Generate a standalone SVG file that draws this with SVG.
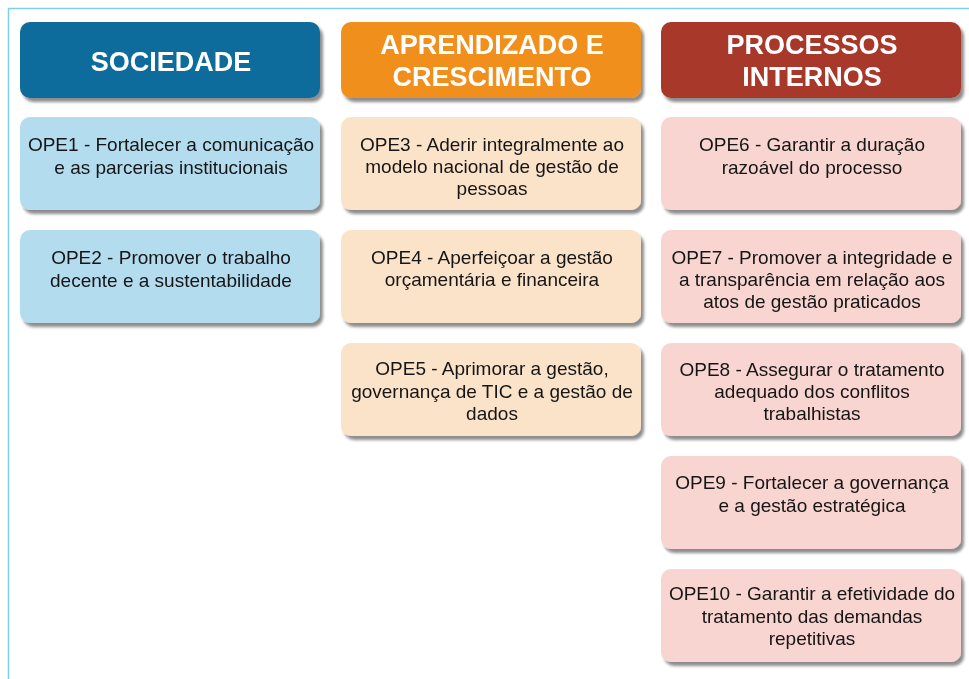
<svg xmlns="http://www.w3.org/2000/svg" width="969" height="679" viewBox="0 0 969 679">
<defs>
<filter id="sh" x="-5%" y="-10%" width="115%" height="130%">
<feGaussianBlur in="SourceAlpha" stdDeviation="1.5"/>
<feOffset dx="3" dy="4" result="o"/>
<feComponentTransfer><feFuncA type="linear" slope="0.45"/></feComponentTransfer>
<feMerge><feMergeNode/><feMergeNode in="SourceGraphic"/></feMerge>
</filter>
<style>
.hd{font-family:"Liberation Sans",Arial,sans-serif;font-weight:bold;font-size:27px;fill:#ffffff;text-anchor:middle}
.tx{font-family:"Liberation Sans",Arial,sans-serif;font-size:19px;fill:#151515;text-anchor:middle}
.c1{fill:#b3dcef}
.c2{fill:#fbe3c9}
.c3{fill:#f8d5d1}
</style>
</defs>
<rect width="969" height="679" fill="#ffffff"/>
<path d="M8.5 679 V8.5 H969" fill="none" stroke="#7fcdf5" stroke-width="1.5"/>
<g id="h1" filter="url(#sh)"><rect x="20" y="22" width="300" height="76" rx="10" fill="#106c9c"/><text class="hd" x="171" y="71">SOCIEDADE</text></g>
<g id="h2" filter="url(#sh)"><rect x="341" y="22" width="300" height="76" rx="10" fill="#f08f1d"/><text class="hd" x="492" y="54">APRENDIZADO E</text><text class="hd" x="492" y="86">CRESCIMENTO</text></g>
<g id="h3" filter="url(#sh)"><rect x="661" y="22" width="300" height="76" rx="10" fill="#a8392c"/><text class="hd" x="812" y="54">PROCESSOS</text><text class="hd" x="812" y="86">INTERNOS</text></g>

<g id="ope1" filter="url(#sh)"><rect class="c1" x="20" y="117" width="300" height="93" rx="10"/><text class="tx" x="171" y="151">OPE1 - Fortalecer a comunicação</text><text class="tx" x="171" y="174">e as parcerias institucionais</text></g>
<g id="ope2" filter="url(#sh)"><rect class="c1" x="20" y="230" width="300" height="93" rx="10"/><text class="tx" x="171" y="264">OPE2 - Promover o trabalho</text><text class="tx" x="171" y="287">decente e a sustentabilidade</text></g>

<g id="ope3" filter="url(#sh)"><rect class="c2" x="341" y="117" width="300" height="93" rx="10"/><text class="tx" x="492" y="151">OPE3 - Aderir integralmente ao</text><text class="tx" x="492" y="173">modelo nacional de gestão de</text><text class="tx" x="492" y="195">pessoas</text></g>
<g id="ope4" filter="url(#sh)"><rect class="c2" x="341" y="230" width="300" height="93" rx="10"/><text class="tx" x="492" y="264">OPE4 - Aperfeiçoar a gestão</text><text class="tx" x="492" y="286">orçamentária e financeira</text></g>
<g id="ope5" filter="url(#sh)"><rect class="c2" x="341" y="343" width="300" height="93" rx="10"/><text class="tx" x="492" y="375">OPE5 - Aprimorar a gestão,</text><text class="tx" x="492" y="398">governança de TIC e a gestão de</text><text class="tx" x="492" y="420">dados</text></g>

<g id="ope6" filter="url(#sh)"><rect class="c3" x="661" y="117" width="300" height="93" rx="10"/><text class="tx" x="812" y="151">OPE6 - Garantir a duração</text><text class="tx" x="812" y="174">razoável do processo</text></g>
<g id="ope7" filter="url(#sh)"><rect class="c3" x="661" y="230" width="300" height="93" rx="10"/><text class="tx" x="812" y="264">OPE7 - Promover a integridade e</text><text class="tx" x="812" y="286">a transparência em relação aos</text><text class="tx" x="812" y="308">atos de gestão praticados</text></g>
<g id="ope8" filter="url(#sh)"><rect class="c3" x="661" y="343" width="300" height="93" rx="10"/><text class="tx" x="812" y="376">OPE8 - Assegurar o tratamento</text><text class="tx" x="812" y="398">adequado dos conflitos</text><text class="tx" x="812" y="420">trabalhistas</text></g>
<g id="ope9" filter="url(#sh)"><rect class="c3" x="661" y="456" width="300" height="93" rx="10"/><text class="tx" x="812" y="489">OPE9 - Fortalecer a governança</text><text class="tx" x="812" y="512">e a gestão estratégica</text></g>
<g id="ope10" filter="url(#sh)"><rect class="c3" x="661" y="569" width="300" height="93" rx="10"/><text class="tx" x="812" y="600">OPE10 - Garantir a efetividade do</text><text class="tx" x="812" y="623">tratamento das demandas</text><text class="tx" x="812" y="645">repetitivas</text></g>
<g id="connectors"/>
</svg>
